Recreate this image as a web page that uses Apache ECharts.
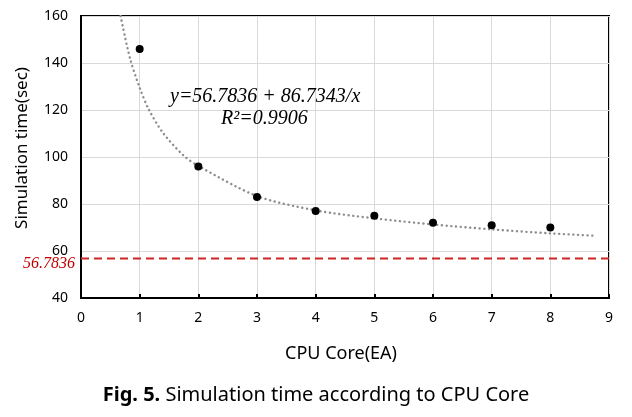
<!DOCTYPE html>
<html>
<head>
<meta charset="utf-8">
<script src="https://cdn.jsdelivr.net/npm/echarts@6/dist/echarts.min.js"></script>
<style>html,body{margin:0;padding:0;background:#fff;}#c{width:632px;height:417px;}</style>
</head>
<body>
<div id="c"></div>
<script>
// Measured data points
var cores = [1, 2, 3, 4, 5, 6, 7, 8];
var simTimes = [146, 96, 83, 77, 75, 72, 71, 70];
// Trend curve (x, y)
var trendX = [0.675, 0.835, 1.0, 1.15, 1.4, 1.75, 2.0, 3.0, 4.0, 5.0, 6.0, 7.0, 8.0, 8.76];
var trendY = [160, 142, 129.5, 120.5, 110.2, 100.6, 96.2, 83.4, 77.3, 73.9, 71.3, 69.2, 67.5, 66.5];
var asymptote = 56.7836;
var xTicks = [0, 1, 2, 3, 4, 5, 6, 7, 8, 9];
var yTicks = [40, 60, 80, 100, 120, 140, 160];
var eqText = 'y=56.7836 + 86.7343/x';
var r2Text = 'R²=0.9906';
var xName = 'CPU Core(EA)';
var yName = 'Simulation time(sec)';
var caption = ['Fig. 5.', ' Simulation time according to CPU Core'];

var chart = echarts.init(document.getElementById('c'), null, {renderer: 'canvas'});
var sans = '"Noto Sans", "Open Sans", sans-serif';
var serif = '"Liberation Serif", "DejaVu Serif", serif';

var pts = cores.map(function (c, i) { return [c, simTimes[i]]; });
var trend = trendX.map(function (x, i) { return [x, trendY[i]]; });

chart.setOption({
  animation: false,
  backgroundColor: '#fff',
  grid: {left: 81, right: 23, top: 16, bottom: 119, show: true, borderColor: '#000', borderWidth: 2, backgroundColor: 'transparent'},
  xAxis: {
    type: 'value', min: xTicks[0], max: xTicks[xTicks.length - 1], interval: 1,
    axisLine: {show: true, lineStyle: {color: '#000', width: 2}},
    axisTick: {show: true, inside: true, length: 4, lineStyle: {color: '#000', width: 2}},
    axisLabel: {fontFamily: sans, fontSize: 14, color: '#000', margin: 13},
    splitLine: {show: true, lineStyle: {color: '#d9d9d9', width: 1}}
  },
  yAxis: {
    type: 'value', min: yTicks[0], max: yTicks[yTicks.length - 1], interval: 20,
    axisLine: {show: true, lineStyle: {color: '#000', width: 2}},
    axisTick: {show: false},
    axisLabel: {fontFamily: sans, fontSize: 14, color: '#000', margin: 13},
    splitLine: {show: true, lineStyle: {color: '#d9d9d9', width: 1}}
  },
  series: [
    {
      type: 'line', data: trend, smooth: 0.3, symbol: 'none', clip: true, z: 2,
      lineStyle: {color: '#8c8c8c', width: 2.4, type: [0.1, 4.6], cap: 'round'}
    },
    {
      type: 'line', data: [[xTicks[0], asymptote], [xTicks[xTicks.length - 1], asymptote]],
      symbol: 'none', z: 2,
      lineStyle: {color: '#d02626', width: 2, type: [8, 5]}
    },
    {
      type: 'scatter', data: pts, symbol: 'circle', symbolSize: 8, z: 3,
      itemStyle: {color: '#000', opacity: 1}
    }
  ],
  graphic: [
    {type: 'text', left: 170, top: 87, z: 10,
     style: {text: eqText, font: 'italic 20px ' + serif, fill: '#000'}},
    {type: 'text', left: 221, top: 109, z: 10,
     style: {text: r2Text, font: 'italic 20px ' + serif, fill: '#000'}},
    {type: 'text', left: 23, top: 256, z: 10,
     style: {text: String(asymptote), font: 'italic 16px ' + serif, fill: '#c00000'}},
    {type: 'text', x: 22, y: 148, rotation: Math.PI / 2, z: 10,
     style: {text: yName, font: '17px ' + sans, fill: '#000', align: 'center', verticalAlign: 'middle'}},
    {type: 'text', x: 341, y: 354, z: 10,
     style: {text: xName, font: '18px ' + sans, fill: '#000', align: 'center', verticalAlign: 'middle'}},
    {type: 'text', left: 'center', top: 385, z: 10,
     style: {
       text: '{b|' + caption[0] + '}' + caption[1],
       rich: {b: {fontFamily: sans, fontSize: 20, fontWeight: 'bold', fill: '#000'}},
       font: '20px ' + sans, fill: '#000'
     }}
  ]
});
</script>
</body>
</html>
